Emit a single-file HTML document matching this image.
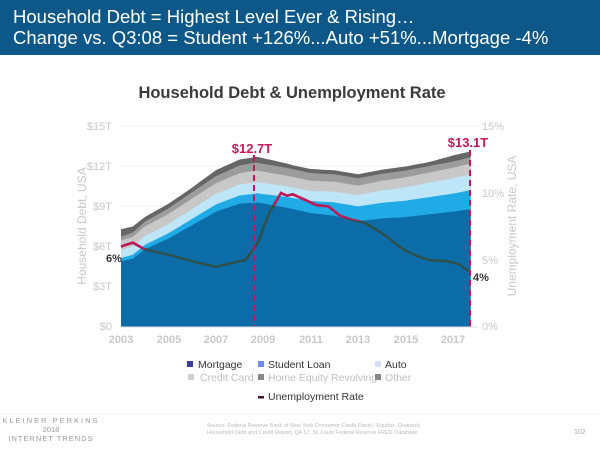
<!DOCTYPE html>
<html><head><meta charset="utf-8"><style>
body{margin:0;width:600px;height:450px;background:#fff;font-family:"Liberation Sans",sans-serif;overflow:hidden;position:relative}
.hdr{position:absolute;left:0;top:0;width:600px;height:55px;background:#0d5888;color:#fff;font-size:18.5px;line-height:21px;padding:6px 0 0 13px;box-sizing:border-box}
</style></head><body>
<div class="hdr">Household Debt = Highest Level Ever &amp; Rising…<br>Change vs. Q3:08 = Student +126%...Auto +51%...Mortgage -4%</div>
<svg id="c" width="600" height="450" style="position:absolute;left:0;top:0" xmlns="http://www.w3.org/2000/svg">
<text x="292" y="98" font-size="16.5" font-weight="bold" fill="#3a3a3a" text-anchor="middle">Household Debt &amp; Unemployment Rate</text>
<g stroke="#eeeeee" stroke-width="1">
<line x1="120" y1="126" x2="478" y2="126"/><line x1="120" y1="166" x2="478" y2="166"/><line x1="120" y1="206" x2="478" y2="206"/><line x1="120" y1="246" x2="478" y2="246"/><line x1="120" y1="286" x2="478" y2="286"/>
</g>
<g font-size="11" fill="#c8c8c8" text-anchor="end">
<text x="112" y="130">$15T</text><text x="112" y="170">$12T</text><text x="112" y="210">$9T</text><text x="112" y="250">$6T</text><text x="112" y="290">$3T</text><text x="112" y="330">$0</text>
</g>
<g font-size="11" fill="#c8c8c8">
<text x="482" y="130">15%</text><text x="482" y="197">10%</text><text x="482" y="264">5%</text><text x="482" y="330">0%</text>
</g>
<text transform="translate(86,226) rotate(-90)" font-size="12" fill="#c8c8c8" text-anchor="middle">Household Debt, USA</text>
<text transform="translate(516,226) rotate(-90)" font-size="12" fill="#c8c8c8" text-anchor="middle">Unemployment Rate, USA</text>
<g font-size="11" fill="#c8c8c8" font-weight="bold" text-anchor="middle">
<text x="121" y="343">2003</text><text x="169" y="343">2005</text><text x="216" y="343">2007</text><text x="263" y="343">2009</text><text x="311" y="343">2011</text><text x="358" y="343">2013</text><text x="406" y="343">2015</text><text x="453" y="343">2017</text>
</g>
<g id="areas"></g>
<line x1="120" y1="327" x2="478" y2="327" stroke="#ddd"/>
<g id="ue"></g>
<line x1="254" y1="155" x2="254" y2="326" stroke="#c2185b" stroke-width="2" stroke-dasharray="6,4"/>
<line x1="470" y1="150" x2="470" y2="326" stroke="#c2185b" stroke-width="2" stroke-dasharray="6,4"/>
<text x="252" y="153" font-size="13" font-weight="bold" fill="#c2185b" text-anchor="middle">$12.7T</text>
<text x="468" y="147" font-size="13" font-weight="bold" fill="#c2185b" text-anchor="middle">$13.1T</text>
<text x="106" y="262" font-size="11" font-weight="bold" fill="#333">6%</text>
<text x="473" y="281" font-size="11" font-weight="bold" fill="#333">4%</text>
<g font-size="10.5">
<rect x="187" y="361" width="6" height="6" fill="#3a3f9e"/><text x="198" y="368" fill="#333">Mortgage</text>
<rect x="258" y="361" width="6" height="6" fill="#6b8ee8"/><text x="268" y="368" fill="#333">Student Loan</text>
<rect x="375" y="361" width="6" height="6" fill="#d6e0f4"/><text x="385" y="368" fill="#333">Auto</text>
<rect x="188" y="374" width="6" height="6" fill="#d0d0d0"/><text x="200" y="381" fill="#c0c0c0">Credit Card</text>
<rect x="258" y="374" width="6" height="6" fill="#888"/><text x="268" y="381" fill="#c0c0c0">Home Equity Revolving</text>
<rect x="375" y="374" width="6" height="6" fill="#888"/><text x="385" y="381" fill="#c0c0c0">Other</text>
<rect x="258" y="396" width="6" height="2.5" fill="#4a1030"/><text x="268" y="400" fill="#333">Unemployment Rate</text>
</g>
<line x1="0" y1="414" x2="600" y2="414" stroke="#f0f0f0"/>
<g font-size="7.5" fill="#999" text-anchor="middle">
<text x="51" y="423" letter-spacing="2">KLEINER PERKINS</text><text x="51" y="432">2018</text><text x="51" y="441" letter-spacing="1">INTERNET TRENDS</text>
</g>
<g font-size="5.5" fill="#bbb"><text x="207" y="427">Source: Federal Reserve Bank of New York Consumer Credit Panel / Equifax, Quarterly</text><text x="207" y="434">Household Debt and Credit Report, Q4 17, St. Louis Federal Reserve FRED Database</text></g>
<text x="574" y="434" font-size="7" fill="#aaa">102</text>
</svg>
<script>
function X(t){return 121+(t-2003)*23.7;}
function Y(v){return 327-v*13.4;}
function interp(k,t){for(var i=0;i<k.length-1;i++){if(t<=k[i+1][0]){var a=k[i],b=k[i+1];return a[1]+(b[1]-a[1])*(t-a[0])/(b[0]-a[0]);}}return k[k.length-1][1];}
var total=[[2003,7.3],[2003.5,7.5],[2004,8.2],[2005,9.2],[2006,10.4],[2007,11.7],[2008,12.5],[2008.75,12.7],[2009.5,12.4],[2010,12.2],[2011,11.7],[2012,11.4],[2013,11.2],[2013.25,11.1],[2014,11.6],[2015,11.9],[2016,12.3],[2017,12.8],[2017.75,13.1]];
var mort=[[2003,4.9],[2003.5,5.1],[2004,5.8],[2005,6.6],[2006,7.6],[2007,8.6],[2008,9.2],[2008.75,9.3],[2010,8.9],[2011,8.5],[2012,8.3],[2013,7.9],[2014,8.1],[2015,8.2],[2016,8.4],[2017,8.6],[2017.75,8.8]];
var stu=[[2003,0.25],[2008.5,0.65],[2011,0.9],[2013,1.1],[2017.75,1.4]];
var aut=[[2003,0.6],[2008.5,0.85],[2011,0.75],[2013,0.85],[2017.75,1.2]];
var cc=[[2003,0.7],[2008.5,0.85],[2013,0.7],[2017.75,0.8]];
var he=[[2003,0.3],[2008.5,0.6],[2013,0.55],[2017.75,0.45]];
var ts=[];for(var t=2003;t<=2017.751;t+=0.25)ts.push(t);
var layers=[[],[],[],[],[],[]];
ts.forEach(function(t){var m=interp(mort,t),s=m+interp(stu,t),a=s+interp(aut,t),c=a+interp(cc,t),h=c+interp(he,t),o=interp(total,t);if(o<h+0.3)o=h+0.3;
[m,s,a,c,h,o].forEach(function(v,i){layers[i].push(v);});});
var cols=["#0b6ca8","#20aae6","#bfe5f8","#c8c8c8","#9c9c9c","#666"];
var svg="";
for(var i=5;i>=0;i--){var d="M"+X(2003)+","+Y(0);ts.forEach(function(t,j){d+=" L"+X(t).toFixed(1)+","+Y(layers[i][j]).toFixed(1);});d+=" L"+X(2017.75)+","+Y(0)+"Z";svg+='<path d="'+d+'" fill="'+cols[i]+'"/>';}
var top="";ts.forEach(function(t,j){top+=(j?" L":"M")+X(t).toFixed(1)+","+Y(layers[5][j]).toFixed(1);});
svg+='<path d="'+top+'" fill="none" stroke="#444" stroke-width="3"/>';
var above="M"+X(2003)+",100";ts.forEach(function(t,j){above+=" L"+X(t).toFixed(1)+","+Y(layers[0][j]).toFixed(1);});above+=" L"+X(2017.75)+",100Z";
svg+='<clipPath id="ab"><path d="'+above+'"/></clipPath>';
document.getElementById("areas").innerHTML=svg;
var ue=[[2003,6.0],[2003.5,6.3],[2004,5.8],[2004.5,5.6],[2005,5.4],[2006,4.9],[2006.5,4.7],[2007,4.5],[2007.75,4.8],[2008.25,5.0],[2008.75,6.2],[2009.25,8.5],[2009.75,10.0],[2010,9.8],[2010.25,9.9],[2010.75,9.5],[2011.25,9.1],[2011.75,9.0],[2012.25,8.3],[2012.75,8.0],[2013,7.9],[2013.25,7.8],[2013.75,7.3],[2014.25,6.7],[2014.75,6.0],[2015,5.7],[2015.5,5.3],[2016,5.0],[2016.75,4.9],[2017.25,4.7],[2017.75,4.1]];
function UY(v){return 327-v*13.4;}
var d="";ue.forEach(function(p,j){d+=(j?" L":"M")+X(p[0]).toFixed(1)+","+UY(p[1]).toFixed(1);});
document.getElementById("ue").innerHTML='<path d="'+d+'" fill="none" stroke="#2f5048" stroke-width="2.5"/><path d="'+d+'" fill="none" stroke="#c2185b" stroke-width="2.5" clip-path="url(#ab)"/>';
</script>
</body></html>
